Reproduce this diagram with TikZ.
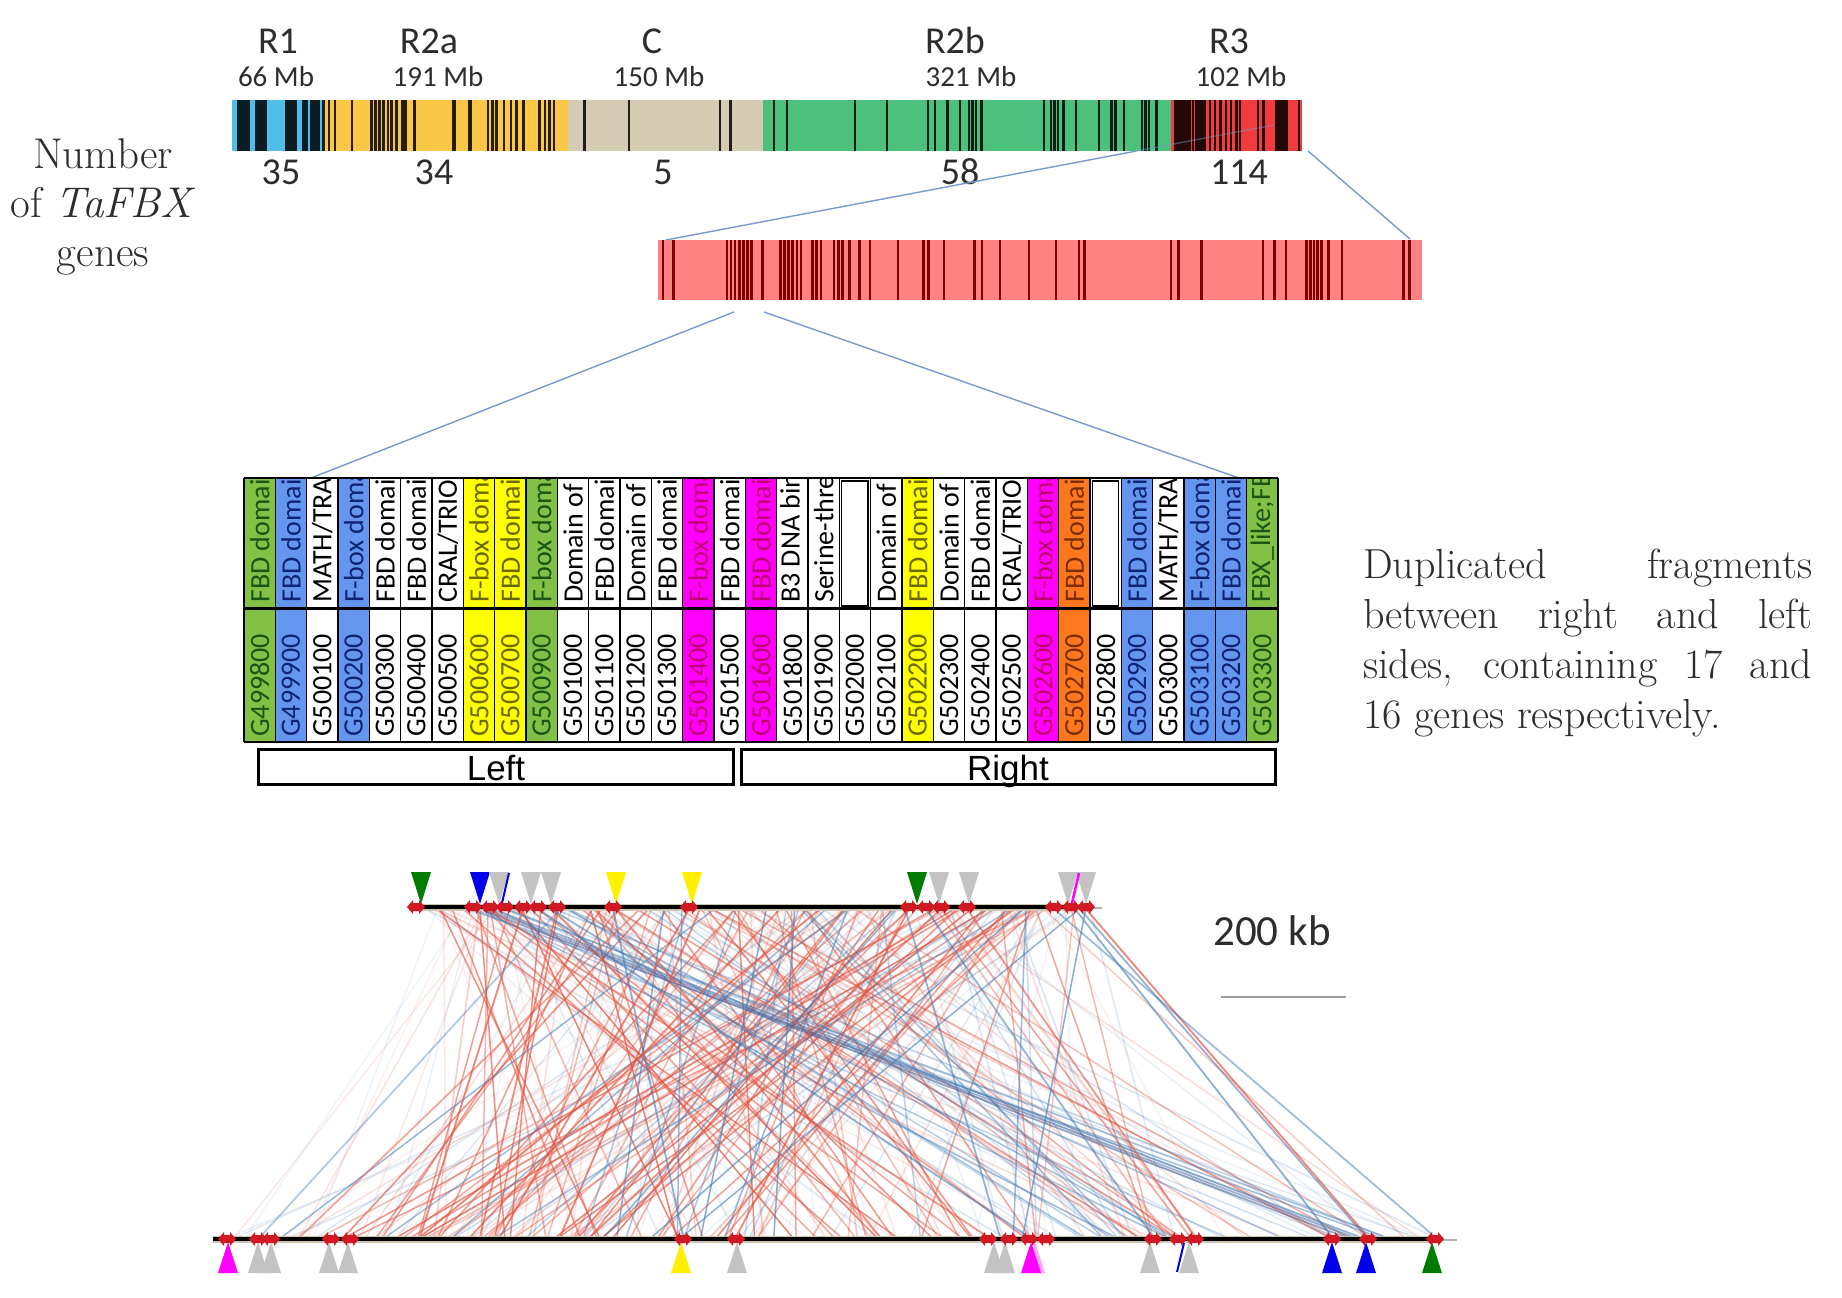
\documentclass[tikz,border=0pt]{standalone}
\usepackage{fontspec}
\newfontfamily\calib{Carlito}
\newfontfamily\arialf{Liberation Sans}
\definecolor{r1blue}{RGB}{80,190,235}
\definecolor{r2yel}{RGB}{250,200,70}
\definecolor{cbeige}{RGB}{212,203,178}
\definecolor{r2green}{RGB}{76,193,125}
\definecolor{r3red}{RGB}{240,60,60}
\definecolor{zoomred}{RGB}{255,130,130}
\definecolor{stripered}{RGB}{125,0,0}
\definecolor{linkblue}{RGB}{120,155,205}
\definecolor{txtgray}{RGB}{45,45,45}
\definecolor{tgr}{RGB}{130,192,70}
\definecolor{tbl}{RGB}{100,150,240}
\definecolor{tye}{RGB}{255,255,0}
\definecolor{tma}{RGB}{255,0,255}
\definecolor{tor}{RGB}{255,120,30}
\definecolor{tgrT}{RGB}{25,85,20}
\definecolor{tblT}{RGB}{15,35,115}
\definecolor{tyeT}{RGB}{105,105,0}
\definecolor{tmaT}{RGB}{190,0,110}
\definecolor{torT}{RGB}{125,45,0}
\definecolor{synred}{RGB}{228,85,65}
\definecolor{synblue}{RGB}{65,125,185}
\definecolor{syndark}{RGB}{70,95,150}
\definecolor{mkred}{RGB}{210,25,35}
\definecolor{trigray}{RGB}{195,195,195}
\definecolor{trigreen}{RGB}{0,125,0}
\definecolor{triblue}{RGB}{0,0,235}
\definecolor{triyel}{RGB}{255,240,0}
\definecolor{trimag}{RGB}{255,0,255}
\definecolor{trackedge}{RGB}{205,198,175}
\begin{document}
\begin{tikzpicture}[x=1pt,y=-1pt,
  toplab/.style={font=\fontsize{38}{44}\selectfont\calib, text=txtgray, anchor=base, inner sep=0},
  mblab/.style={font=\fontsize{29}{34}\selectfont\calib, text=txtgray, anchor=base, inner sep=0},
  cntlab/.style={font=\fontsize{38}{42}\selectfont\calib, text=txtgray, anchor=base, inner sep=0},
  genetxt/.style={rotate=90, anchor=west, inner sep=0, font=\fontsize{28}{30}\selectfont\calib},
  link/.style={linkblue, line width=1.4},
  stripe/.style={black, opacity=0.85, line width=2.8},
  zstripe/.style={stripered, line width=2.6},
  rib/.style={line width=1.5},
  rmark/.pic={\fill[mkred] (-9,0) -- (-3,-7) -- (-3,-4) -- (3,-4) -- (3,-7) -- (9,0) -- (3,7) -- (3,4) -- (-3,4) -- (-3,7) -- cycle;}
]
\useasboundingbox (0,0) rectangle (1842,1298);
\fill[white] (0,0) rectangle (1842,1298);

% ---------- top chromosome bar ----------
\fill[r1blue] (232,100) rectangle (322,151);
\fill[r2yel] (322,100) rectangle (568,151);
\fill[cbeige] (568,100) rectangle (763,151);
\fill[r2green] (763,100) rectangle (1171,151);
\fill[r3red] (1171,100) rectangle (1302,151);
\foreach \a/\b in {237/250,255/267,285/297,302/308,310/320,1174/1191,1195/1206,1275/1288}
  \fill[black, opacity=0.85] (\a,100) rectangle (\b,151);
\foreach \x in {323.6,328.9,335,352,371.8,375.4,379.6,383.6,387.9,391.4,396.8,402.1,405.7,414.6,487.9,492.1,496.8,503.9,511,516.4,523.6,539.6,545,549.3,553.9,
  584.3,628.9,720,730.7,
  774,787,855,887,928,935,947.5,960,969,972.5,976,981.4,1044,1051,1054.6,1058,1063.6,1076,1099,1111.8,1115.4,1124,1142,1145.7,1149,1156.4,
  1193,1210,1215,1220.7,1226,1231,1236.8,1240,1258,1263.6,1299}
  \draw[stripe] (\x,100) -- (\x,151);
\foreach \x in {453.9,470}
  \draw[stripe, line width=4.5] (\x,100) -- (\x,151);

\node[toplab] (R1) at (278,54) {R1};
\node[toplab] (R2a) at (429,54) {R2a};
\node[toplab] (C) at (652,54) {C};
\node[toplab] (R2b) at (955,54) {R2b};
\node[toplab] (R3) at (1229,54) {R3};
\node[mblab] (m1) at (276,86) {66 Mb};
\node[mblab] (m2) at (438,86) {191 Mb};
\node[mblab] (m3) at (659,86) {150 Mb};
\node[mblab] (m4) at (971,86) {321 Mb};
\node[mblab] (m5) at (1241,86) {102 Mb};
\node[cntlab] (n1) at (281,184) {35};
\node[cntlab] (n2) at (434,184) {34};
\node[cntlab] (n3) at (663,184) {5};
\node[cntlab] (n4) at (960,184) {58};
\node[cntlab] (n5) at (1239,184) {114};

\node[anchor=base, inner sep=0, font=\fontsize{43}{49}\selectfont, text=txtgray] (numlab) at (103,168)
  {\parbox[t]{240pt}{\centering Number\\ of \textit{TaFBX}\\ genes}};

% ---------- zoomed bar ----------
\fill[zoomred] (658,240) rectangle (1422,300);
\foreach \x in {663.1,673.3,726.9,731,735.1,739.2,743.2,747.3,751.4,762.6,780.5,784.6,788.7,792.7,796.8,800.9,812.7,816.7,820.8,834.1,838.2,842.3,849.4,859.6,869.8,897.9,923.4,928.5,943.8,974.4,982.1,999.9,1029.1,1056.1,1079.1,1084.2,1171,1178.6,1201.6,1262.8,1274.6,1285.8,1306.2,1310.3,1313.9,1317.4,1321.5,1328.2,1341.9,1403.2,1409.3}
  \draw[zstripe] (\x,240) -- (\x,300);

% ---------- zoom connectors ----------
\coordinate (zTL) at (666,240);
\coordinate (topI) at (1136.6,151);
\coordinate (topA) at (1274,125);
\coordinate (topB) at (1308,151);
\coordinate (zTR) at (1410,239);
\coordinate (zB1) at (734,312);
\coordinate (tabA) at (311,478);
\coordinate (zB2) at (764,312);
\coordinate (tabB) at (1239,478);
\draw[link] (zTL) -- (topI);
\draw[link, opacity=0.45] (topI) -- (topA);
\draw[link] (topB) -- (zTR);
\draw[link] (zB1) -- (tabA);
\draw[link] (zB2) -- (tabB);

% ---------- table ----------
\foreach \fc/\tc/\lab/\gene [count=\i from 0] in {
 tgr/tgrT/{FBD domain}/G499800,
 tbl/tblT/{FBD domain}/G499900,
 white/black/{MATH/TRAF}/G500100,
 tbl/tblT/{F-box domain}/G500200,
 white/black/{FBD domain}/G500300,
 white/black/{FBD domain}/G500400,
 white/black/{CRAL/TRIO}/G500500,
 tye/tyeT/{F-box domain}/G500600,
 tye/tyeT/{FBD domain}/G500700,
 tgr/tgrT/{F-box domain}/G500900,
 white/black/{Domain of unknown}/G501000,
 white/black/{FBD domain}/G501100,
 white/black/{Domain of unknown}/G501200,
 white/black/{FBD domain}/G501300,
 tma/tmaT/{F-box domain}/G501400,
 white/black/{FBD domain}/G501500,
 tma/tmaT/{FBD domain}/G501600,
 white/black/{B3 DNA binding}/G501800,
 white/black/{Serine-threonine}/G501900,
 white/black/{}/G502000,
 white/black/{Domain of unknown}/G502100,
 tye/tyeT/{FBD domain}/G502200,
 white/black/{Domain of unknown}/G502300,
 white/black/{FBD domain}/G502400,
 white/black/{CRAL/TRIO}/G502500,
 tma/tmaT/{F-box domain}/G502600,
 tor/torT/{FBD domain}/G502700,
 white/black/{}/G502800,
 tbl/tblT/{FBD domain}/G502900,
 white/black/{MATH/TRAF}/G503000,
 tbl/tblT/{F-box domain}/G503100,
 tbl/tblT/{FBD domain}/G503200,
 tgr/tgrT/{FBX\_like;FBD}/G503300}
{
  \pgfmathsetmacro\xl{244+\i*31.3333}
  \pgfmathsetmacro\xc{\xl+15.6667}
  \fill[\fc] (\xl,478) rectangle (\xl+31.3333,742);
  \node[genetxt, text=\tc] (g\i) at (\xc,737) {\gene};
  \begin{scope}
    \clip (\xl,478) rectangle (\xl+31.3333,608);
    \node[genetxt, text=\tc] (l\i) at (\xc,603) {\lab};
  \end{scope}
}
\foreach \i in {19,27}
  \draw[line width=1.3] (244+\i*31.3333+2.5,481) rectangle (244+\i*31.3333+28.8,606);
\foreach \i in {0,...,33}
  \draw[line width=1.4] (244+\i*31.3333,478) -- (244+\i*31.3333,742);
\draw[line width=1.4] (244,478) -- (1278,478);
\draw[line width=3] (244,608) -- (1278,608);
\draw[line width=1.4] (244,742) -- (1278,742);

\draw[line width=3] (258,749) rectangle (733,784);
\draw[line width=3] (741,749) rectangle (1275,784);
\node[anchor=base, inner sep=0, font=\fontsize{35}{40}\selectfont\arialf] (leftlab) at (496,780) {Left};
\node[anchor=base, inner sep=0, font=\fontsize{35}{40}\selectfont\arialf] (rightlab) at (1008,780) {Right};

\node[anchor=base west, inner sep=0, font=\fontsize{42}{50}\selectfont, text=txtgray] (dup) at (1363,578)
  {\parbox[t]{449pt}{\tolerance=10000\noindent Duplicated fragments\linebreak between right and left\linebreak sides, containing 17 and\linebreak 16 genes respectively.}};

% ---------- synteny ribbons ----------
\pgfmathsetseed{777}
% faint background lines
\foreach \k in {1,...,110} {
  \pgfmathsetmacro\ax{415+675*rnd}
  \pgfmathsetmacro\bx{222+1215*rnd}
  \pgfmathsetmacro\op{0.06+0.16*rnd}
  \pgfmathtruncatemacro\cc{rnd<0.5}
  \ifnum\cc=1
    \draw[rib, synred, opacity=\op] (\ax,909) -- (\bx,1237);
  \else
    \draw[rib, synblue, opacity=\op] (\ax,909) -- (\bx,1237);
  \fi
}
% red lines to the middle of the lower track
\foreach \k in {1,...,85} {
  \pgfmathsetmacro\ax{430+620*rnd}
  \pgfmathsetmacro\bx{320+660*rnd}
  \pgfmathsetmacro\op{0.25+0.5*rnd}
  \draw[rib, synred, opacity=\op] (\ax,909) -- (\bx,1237);
}
% red lines to the right part
\foreach \k in {1,...,25} {
  \pgfmathsetmacro\ax{560+530*rnd}
  \pgfmathsetmacro\bx{950+480*rnd}
  \pgfmathsetmacro\op{0.2+0.45*rnd}
  \draw[rib, synred, opacity=\op] (\ax,909) -- (\bx,1237);
}
% blue lines from upper left to lower right
\foreach \k in {1,...,14} {
  \pgfmathsetmacro\ax{465+110*rnd}
  \pgfmathsetmacro\bx{1000+440*rnd}
  \pgfmathsetmacro\op{0.15+0.35*rnd}
  \draw[rib, synblue, opacity=\op] (\ax,909) -- (\bx,1237);
}
% blue lines from upper right / middle to lower left and middle
\foreach \k in {1,...,30} {
  \pgfmathsetmacro\ax{600+490*rnd}
  \pgfmathsetmacro\bx{280+900*rnd}
  \pgfmathsetmacro\op{0.2+0.45*rnd}
  \draw[rib, synblue, opacity=\op] (\ax,909) -- (\bx,1237);
}
% strong lines
\foreach \a/\b/\c/\o in {1086/1368/synred/0.7,1080/1366/syndark/0.5,1075/1332/synblue/0.6,
  480/1345/syndark/0.55,486/1352/syndark/0.5,492/1360/synblue/0.55,505/1385/synblue/0.45,
  523/420/synred/0.7,557/480/synred/0.65,613/683/synblue/0.6,689/500/synred/0.7,909/736/synred/0.7,926/1153/synblue/0.55,
  941/590/synred/0.65,490/988/synred/0.6,538/1029/synblue/0.6,967/1195/synred/0.6,616/880/synred/0.6,1054/1435/synblue/0.5,
  820/420/synred/0.7,780/470/synred/0.65,700/560/synred/0.7,905/1000/synblue/0.55,640/300/synred/0.5,560/260/synblue/0.4}
  \draw[rib, \c, opacity=\o, line width=1.8] (\a,909) -- (\b,1237);

% ---------- tracks ----------
\draw[trackedge, line width=7] (409,907) -- (1092,907);
\draw[black, line width=3.8] (409,907) -- (1092,907);
\draw[gray!60, line width=2] (1092,908) -- (1102,908);
\draw[trackedge, line width=7] (213,1239) -- (1440,1239);
\draw[black, line width=3.8] (213,1239) -- (1440,1239);
\draw[gray!60, line width=2] (1440,1240) -- (1457,1240);

% top triangles (pointing down)
\foreach \x/\c in {421/trigreen,480/triblue,499/trigray,531/trigray,551/trigray,616/triyel,692/triyel,917/trigreen,939/trigray,969/trigray,1068/trigray,1086/trigray}
  \fill[\c] (\x-10,872) -- (\x+10,872) -- (\x,904) -- cycle;
\draw[triblue, line width=2] (509,873) -- (502,903);
\draw[trimag, line width=2.5] (1079,873) -- (1072,903);

% bottom triangles (pointing up)
\fill[trimag!35] (1045,1273) -- (1025,1273) -- (1035,1242) -- cycle;
\foreach \x/\c in {228/trimag,258/trigray,271/trigray,329/trigray,348/trigray,681/triyel,737/trigray,994/trigray,1005/trigray,1031/trimag,1150/trigray,1189/trigray,1332/triblue,1366/triblue,1432/trigreen}
  \fill[\c] (\x-10,1273) -- (\x+10,1273) -- (\x,1242) -- cycle;
\draw[triblue, line width=2] (1177,1272) -- (1184,1243);

% red markers
\foreach \x in {416,473,490,505,523,538,557,613,689,909,926,941,967,1054,1071,1086}
  \pic at (\x,907) {rmark};
\foreach \x in {227,258,271,331,350,683,736,988,1009,1029,1046,1153,1178,1195,1332,1368,1435}
  \pic at (\x,1239) {rmark};

% scale
\node[anchor=base, inner sep=0, font=\fontsize{43}{48}\selectfont\calib, text=txtgray] (kb) at (1272,945) {200 kb};
\coordinate (sbL) at (1221,997);
\coordinate (sbR) at (1346,997);
\draw[gray!75, line width=2] (sbL) -- (sbR);
\end{tikzpicture}
\end{document}
